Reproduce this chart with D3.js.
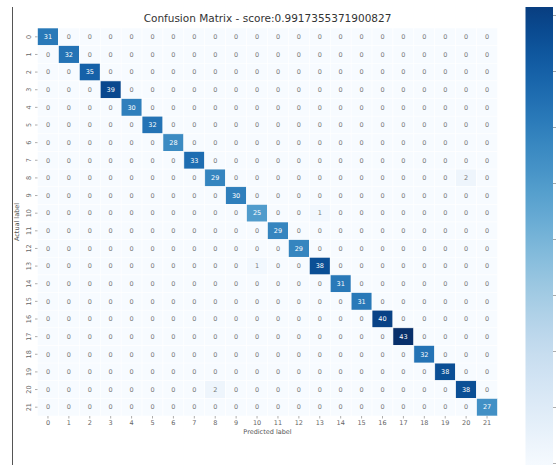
<!DOCTYPE html>
<html>
<head>
<meta charset="utf-8">
<script src="https://cdn.jsdelivr.net/npm/d3@7"></script>
<style>
  html, body { margin: 0; padding: 0; background: #fff; }
  svg { display: block; font-family: "DejaVu Sans", sans-serif; }
</style>
</head>
<body>
<svg id="chart" width="558" height="465"></svg>
<script>
// Class labels (same for actual and predicted)
const classes = d3.range(22).map(String);

// Correct predictions per class (diagonal of the matrix)
const diagonalCounts = [31, 32, 35, 39, 30, 32, 28, 33, 29, 30, 25, 29, 29, 38, 31, 31, 40, 43, 32, 38, 38, 27];

// Misclassifications: [actual, predicted, count]
const offDiagonal = [
  [8, 20, 2],
  [10, 13, 1],
  [13, 10, 1],
  [20, 8, 2]
];

// Colorbar tick positions (labels fall outside the drawing area)
const colorbarTicks = [0, 5, 10, 15, 20, 25, 30, 35, 40];

const score = 0.9917355371900827;

// Build the full matrix
const matrix = classes.map((_, i) => classes.map((_, j) => (i === j ? diagonalCounts[i] : 0)));
offDiagonal.forEach(([a, p, c]) => { matrix[a][p] = c; });
const cells = [];
matrix.forEach((row, i) => row.forEach((v, j) => cells.push({ actual: i, predicted: j, value: v })));

const svg = d3.select("#chart");
const vmax = d3.max(cells, d => d.value);
const color = d3.scaleSequential(d3.interpolateBlues).domain([0, vmax]);

const x = d3.scaleBand().domain(classes).range([37.5, 497.5]);
const y = d3.scaleBand().domain(classes).range([28, 416]);

// Frame line on the left
svg.append("line")
  .attr("x1", 12.5).attr("x2", 12.5).attr("y1", 7).attr("y2", 465)
  .attr("stroke", "#555").attr("stroke-width", 1);

// Title
svg.append("text")
  .attr("x", (x.range()[0] + x.range()[1]) / 2)
  .attr("y", 22)
  .attr("text-anchor", "middle")
  .attr("font-size", 10.5)
  .attr("fill", "#333")
  .text("Confusion Matrix - score:" + score);

// Heatmap cells
svg.append("g").selectAll("rect")
  .data(cells)
  .join("rect")
  .attr("x", d => x(String(d.predicted)))
  .attr("y", d => y(String(d.actual)))
  .attr("width", x.bandwidth())
  .attr("height", y.bandwidth())
  .attr("fill", d => color(d.value))
  .attr("stroke", "#fff")
  .attr("stroke-width", 0.6);

// Cell annotations
svg.append("g").selectAll("text")
  .data(cells)
  .join("text")
  .attr("x", d => x(String(d.predicted)) + x.bandwidth() / 2)
  .attr("y", d => y(String(d.actual)) + y.bandwidth() / 2)
  .attr("dy", "0.35em")
  .attr("text-anchor", "middle")
  .attr("font-size", 6.5)
  .attr("fill", d => (d.value > vmax * 0.45 ? "#fff" : "#7a7a7a"))
  .text(d => d.value);

// X axis
const xAxis = svg.append("g")
  .attr("transform", `translate(0,${y.range()[1]})`)
  .call(d3.axisBottom(x).tickSize(2.5).tickPadding(2));
xAxis.select(".domain").remove();
xAxis.selectAll(".tick line").attr("stroke", "#777").attr("stroke-width", 0.6);
xAxis.selectAll(".tick text").attr("font-size", 6.5).attr("fill", "#666").attr("font-family", "DejaVu Sans");

// Y axis (labels rotated, reading bottom to top)
const yAxis = svg.append("g")
  .attr("transform", `translate(${x.range()[0]},0)`)
  .call(d3.axisLeft(y).tickSize(2.5).tickPadding(2));
yAxis.select(".domain").remove();
yAxis.selectAll(".tick line").attr("stroke", "#777").attr("stroke-width", 0.6);
yAxis.selectAll(".tick text")
  .attr("font-size", 6.5).attr("fill", "#666").attr("font-family", "DejaVu Sans")
  .attr("x", null).attr("dy", null)
  .attr("text-anchor", "middle")
  .attr("transform", "translate(-9,0) rotate(-90)")
  .attr("y", 0).attr("dy", "0.35em");

// Axis titles
svg.append("text")
  .attr("x", (x.range()[0] + x.range()[1]) / 2)
  .attr("y", 434)
  .attr("text-anchor", "middle")
  .attr("font-size", 6.5)
  .attr("fill", "#555")
  .text("Predicted label");

svg.append("text")
  .attr("transform", `translate(19,${(y.range()[0] + y.range()[1]) / 2}) rotate(-90)`)
  .attr("text-anchor", "middle")
  .attr("font-size", 6.5)
  .attr("fill", "#555")
  .text("Actual label");

// Colorbar
const cb = { x: 525.5, w: 27.5, top: 7, bottom: 470 };
const cbScale = d3.scaleLinear().domain([0, 40]).range([463, 15]);
const defs = svg.append("defs");
const grad = defs.append("linearGradient")
  .attr("id", "cbGrad")
  .attr("x1", 0).attr("x2", 0).attr("y1", 1).attr("y2", 0);
const vBottom = Math.max(0, cbScale.invert(cb.bottom));
const vTop = Math.min(vmax, cbScale.invert(cb.top));
d3.range(0, 1.0001, 0.05).forEach(t => {
  const v = vBottom + t * (vTop - vBottom);
  grad.append("stop").attr("offset", t).attr("stop-color", color(v));
});
svg.append("rect")
  .attr("x", cb.x).attr("y", cb.top)
  .attr("width", cb.w).attr("height", cb.bottom - cb.top)
  .attr("fill", "url(#cbGrad)");

// Tick marks only: the labels would sit beyond the right edge
const cbAxis = svg.append("g")
  .attr("transform", `translate(${cb.x + cb.w},0)`)
  .call(d3.axisRight(cbScale).tickValues(colorbarTicks).tickSize(3).tickFormat(() => ""));
cbAxis.select(".domain").remove();
cbAxis.selectAll(".tick line").attr("stroke", "#777").attr("stroke-width", 0.6);
</script>
</body>
</html>
